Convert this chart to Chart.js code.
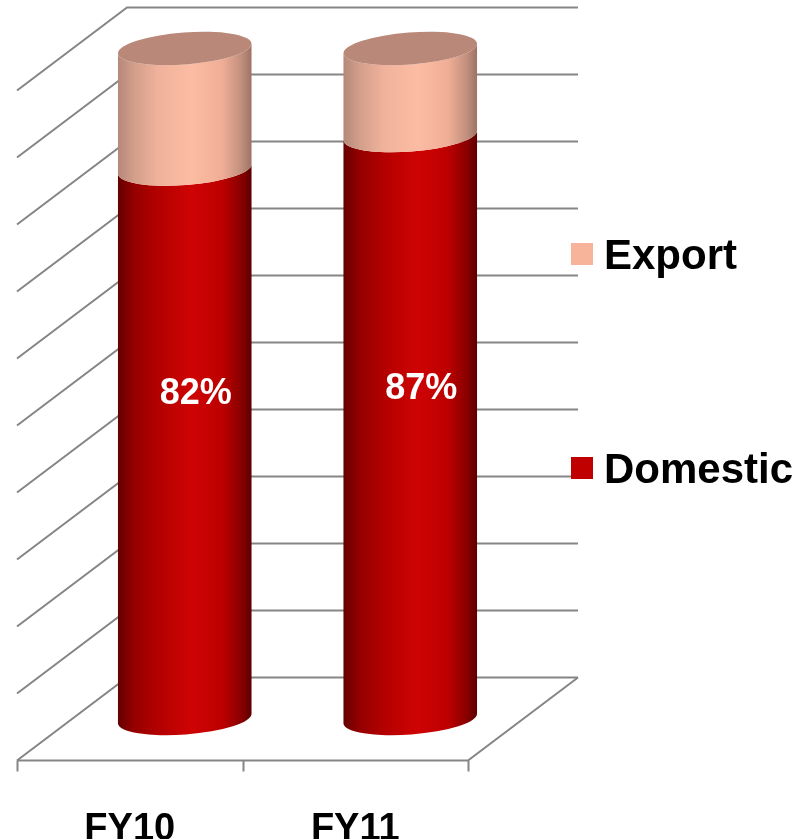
<!DOCTYPE html>
<html>
<head>
<meta charset="utf-8">
<script src="https://cdn.jsdelivr.net/npm/chart.js@4/dist/chart.umd.min.js"></script>
<style>
html,body{margin:0;padding:0;background:#fff;}
#wrap{width:808px;height:839px;position:relative;}
</style>
</head>
<body>
<div id="wrap"><canvas id="c" width="808" height="839"></canvas></div>
<script>
const categories = ['FY10', 'FY11'];
const domestic = [82, 87];
const exportShare = [18, 13];
const seriesNames = ['Domestic', 'Export'];
const yTicks = [0, 10, 20, 30, 40, 50, 60, 70, 80, 90, 100];

const DEPTH = {dx: -110, dy: 83};
const FONT = '"Liberation Sans", Arial, Helvetica, sans-serif';
const GRID = '#858585';

const sideStops = {
  Domestic: [[0,'#640000'],[0.12,'#940000'],[0.3,'#b30000'],[0.55,'#cf0303'],[0.78,'#bd0000'],[0.92,'#8a0000'],[1,'#5c0000']],
  Export: [[0,'#b4887a'],[0.12,'#d29e8a'],[0.3,'#f0b29b'],[0.55,'#fcbca3'],[0.78,'#f0ae96'],[0.92,'#c2907e'],[1,'#9c7364']]
};
const capColor = {Domestic: '#8c1010', Export: '#b98878'};

const cyl3d = {
  id: 'cyl3d',
  beforeDatasetsDraw(chart) {
    const ctx = chart.ctx;
    const y = chart.scales.y, x = chart.scales.x;
    const L = chart.chartArea.left, R = chart.chartArea.right;
    ctx.save();
    ctx.strokeStyle = GRID;
    ctx.lineWidth = 2;
    y.ticks.forEach(t => {
      const py = Math.round(y.getPixelForValue(t.value)) + 0.5;
      ctx.beginPath();
      ctx.moveTo(L + DEPTH.dx, py + DEPTH.dy);
      ctx.lineTo(L, py);
      ctx.lineTo(R, py);
      ctx.stroke();
    });
    const p0 = Math.round(y.getPixelForValue(0)) + 0.5;
    ctx.beginPath();
    ctx.moveTo(L + DEPTH.dx, p0 + DEPTH.dy);
    ctx.lineTo(R + DEPTH.dx, p0 + DEPTH.dy);
    ctx.lineTo(R, p0);
    ctx.stroke();
    const n = categories.length;
    const step = (R - L) / n;
    for (let i = 0; i <= n; i++) {
      const tx = Math.round(L + i * step + DEPTH.dx) + 0.5;
      ctx.beginPath();
      ctx.moveTo(tx, p0 + DEPTH.dy);
      ctx.lineTo(tx, p0 + DEPTH.dy + 11);
      ctx.stroke();
    }
    const rot = -0.075;
    const ry = 16;
    const metas = chart.data.datasets.map((d, i) => chart.getDatasetMeta(i));
    for (let c = 0; c < n; c++) {
      let last = null;
      metas.forEach((meta, di) => {
        const el = meta.data[c];
        const name = chart.data.datasets[di].label;
        const cx = el.x + DEPTH.dx / 2;
        const rx = el.width / 2;
        const yt = el.y + DEPTH.dy / 2;
        const yb = el.base + DEPTH.dy / 2;
        const g = ctx.createLinearGradient(cx - rx, 0, cx + rx, 0);
        sideStops[name].forEach(s => g.addColorStop(s[0], s[1]));
        ctx.beginPath();
        ctx.ellipse(cx, yb, rx, ry, rot, Math.PI, 0, true);
        ctx.ellipse(cx, yt, rx, ry, rot, 0, Math.PI, false);
        ctx.closePath();
        ctx.fillStyle = g;
        ctx.fill();
        last = {cx, rx, yt, name};
      });
      if (last) {
        ctx.beginPath();
        ctx.ellipse(last.cx, last.yt, last.rx, ry, rot, 0, Math.PI * 2);
        ctx.fillStyle = capColor[last.name];
        ctx.fill();
      }
    }
    ctx.restore();
    return false;
  },
  afterDraw(chart) {
    const ctx = chart.ctx;
    const y = chart.scales.y, x = chart.scales.x;
    ctx.save();
    const meta = chart.getDatasetMeta(0);
    ctx.fillStyle = '#ffffff';
    ctx.font = 'bold 36px ' + FONT;
    ctx.textAlign = 'center';
    ctx.textBaseline = 'middle';
    domestic.forEach((v, i) => {
      const el = meta.data[i];
      const lx = el.x + DEPTH.dx * 0.4;
      const ly = 0.25 * y.getPixelForValue(v / 2) + 0.75 * y.getPixelForValue(50) + DEPTH.dy * 0.44;
      ctx.fillText(v + '%', lx, ly);
    });
    ctx.fillStyle = '#000000';
    ctx.font = 'bold 38px ' + FONT;
    ctx.textBaseline = 'alphabetic';
    categories.forEach((cat, i) => {
      const cx = x.getPixelForValue(i) + DEPTH.dx;
      ctx.fillText(cat, cx, 840);
    });
    const legendItems = [
      {label: seriesNames[1], color: '#f7b49a', y: 254},
      {label: seriesNames[0], color: '#c00000', y: 468}
    ];
    ctx.textAlign = 'left';
    ctx.font = 'bold 42px ' + FONT;
    legendItems.forEach(it => {
      ctx.fillStyle = it.color;
      ctx.fillRect(571, it.y - 11, 22, 22);
      ctx.fillStyle = '#000000';
      ctx.fillText(it.label, 604, it.y + 15);
    });
    ctx.restore();
  }
};

new Chart(document.getElementById('c'), {
  type: 'bar',
  data: {
    labels: categories,
    datasets: [
      {label: seriesNames[0], data: domestic, backgroundColor: '#c00000', categoryPercentage: 1, barPercentage: 0.594},
      {label: seriesNames[1], data: exportShare, backgroundColor: '#f7b49a', categoryPercentage: 1, barPercentage: 0.594}
    ]
  },
  options: {
    responsive: false,
    animation: false,
    layout: {padding: {left: 127, right: 230, top: 7, bottom: 162}},
    plugins: {legend: {display: false}, tooltip: {enabled: false}},
    scales: {
      x: {stacked: true, display: false, offset: true},
      y: {stacked: true, display: false, min: 0, max: 100, ticks: {stepSize: 10}}
    }
  },
  plugins: [cyl3d]
});
</script>
</body>
</html>
